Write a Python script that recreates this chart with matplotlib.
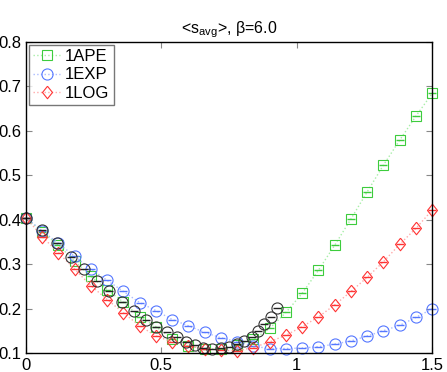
import matplotlib
matplotlib.use("Agg")
import matplotlib.pyplot as plt
import numpy as np

plt.rcParams['font.family'] = ['Liberation Sans', 'DejaVu Sans']
plt.rcParams['mathtext.fontset'] = 'custom'
plt.rcParams['mathtext.rm'] = 'Liberation Sans'

# smearing parameter grid (shared by the three legend series)
x = [0.00, 0.06, 0.12, 0.18, 0.24, 0.30, 0.36, 0.42, 0.48, 0.54, 0.60, 0.66, 0.72,
     0.78, 0.84, 0.90, 0.96, 1.02, 1.08, 1.14, 1.20, 1.26, 1.32, 1.38, 1.44, 1.50]

ape = [0.405, 0.372, 0.343, 0.307, 0.273, 0.243, 0.215, 0.182, 0.160, 0.133, 0.116, 0.111, 0.109,
       0.118, 0.132, 0.156, 0.192, 0.235, 0.287, 0.343, 0.402, 0.463, 0.523, 0.579, 0.633, 0.684]
exp = [0.405, 0.375, 0.347, 0.318, 0.289, 0.264, 0.239, 0.214, 0.196, 0.176, 0.162, 0.147, 0.135,
       0.126, 0.116, 0.111, 0.111, 0.112, 0.115, 0.121, 0.128, 0.139, 0.151, 0.163, 0.181, 0.200]
log = [0.405, 0.362, 0.326, 0.289, 0.252, 0.221, 0.191, 0.162, 0.139, 0.126, 0.116, 0.111, 0.107,
       0.106, 0.113, 0.126, 0.141, 0.160, 0.182, 0.209, 0.239, 0.271, 0.306, 0.345, 0.381, 0.422]

# unlabelled black series
xb = [0.000, 0.058, 0.113, 0.166, 0.215, 0.263, 0.308, 0.356, 0.400, 0.443, 0.479, 0.520, 0.557,
      0.590, 0.624, 0.655, 0.688, 0.719, 0.750, 0.778, 0.805, 0.834, 0.858, 0.880, 0.904, 0.928]
yb = [0.405, 0.377, 0.347, 0.317, 0.289, 0.263, 0.240, 0.216, 0.195, 0.176, 0.160, 0.148, 0.136,
      0.126, 0.118, 0.113, 0.111, 0.112, 0.115, 0.121, 0.127, 0.137, 0.151, 0.165, 0.181, 0.201]

# matlab-style diamond: a bit taller than wide
diamond = [(0, 1), (0.8, 0), (0, -1), (-0.8, 0), (0, 1)]

fig = plt.figure(figsize=(4.47, 3.72), dpi=100)
ax = fig.add_axes([0.058, 0.050, 0.909, 0.838])

series = [
    ("1APE", ape, 's', '#3dcc3d', '#a8eea8', 6.5),
    ("1EXP", exp, 'o', '#5577ff', '#aabbff', 8),
    ("1LOG", log, diamond, '#ff3333', '#ffaaaa', 9),
]
for name, y, m, c, lc, ms in series:
    ax.plot(x, y, linestyle=':', color=lc, lw=1.0, marker=m, ms=ms, mfc='none',
            mec=c, mew=0.8, label=name, clip_on=False)
    ax.plot(x, y, linestyle='none', marker='_', ms=min(ms, 7) * 0.8, mec=c, mew=1.0,
            clip_on=False)

ax.plot(xb, yb, linestyle='none', marker='o', ms=8, mfc='none', mec='#333333', mew=0.8,
        clip_on=False)
ax.plot(xb, yb, linestyle='none', marker='_', ms=6, mec='#222222', mew=1.0, clip_on=False)

ax.set_xlim(0, 1.5)
ax.set_ylim(0.1, 0.8)
ax.set_xticks([0, 0.5, 1, 1.5])
ax.set_xticklabels(['0', '0.5', '1', '1.5'])
ax.set_yticks(np.round(np.arange(0.1, 0.81, 0.1), 1))
ax.tick_params(direction='in', top=True, right=True, labelsize=12, length=4,
               color='#888888', pad=3)
for s in ax.spines.values():
    s.set_linewidth(1.0)

ax.set_title('<s$_{\\rm avg}$>, β=6.0', fontsize=11.5, pad=6)

leg = ax.legend(loc='upper left', fontsize=12, frameon=True, fancybox=False,
                borderaxespad=0.2, handlelength=1.6, handletextpad=0.3,
                labelspacing=0.2, borderpad=0.25)
leg.get_frame().set_edgecolor('#555555')
leg.get_frame().set_linewidth(1.0)

fig.savefig('out.png', dpi=100)
